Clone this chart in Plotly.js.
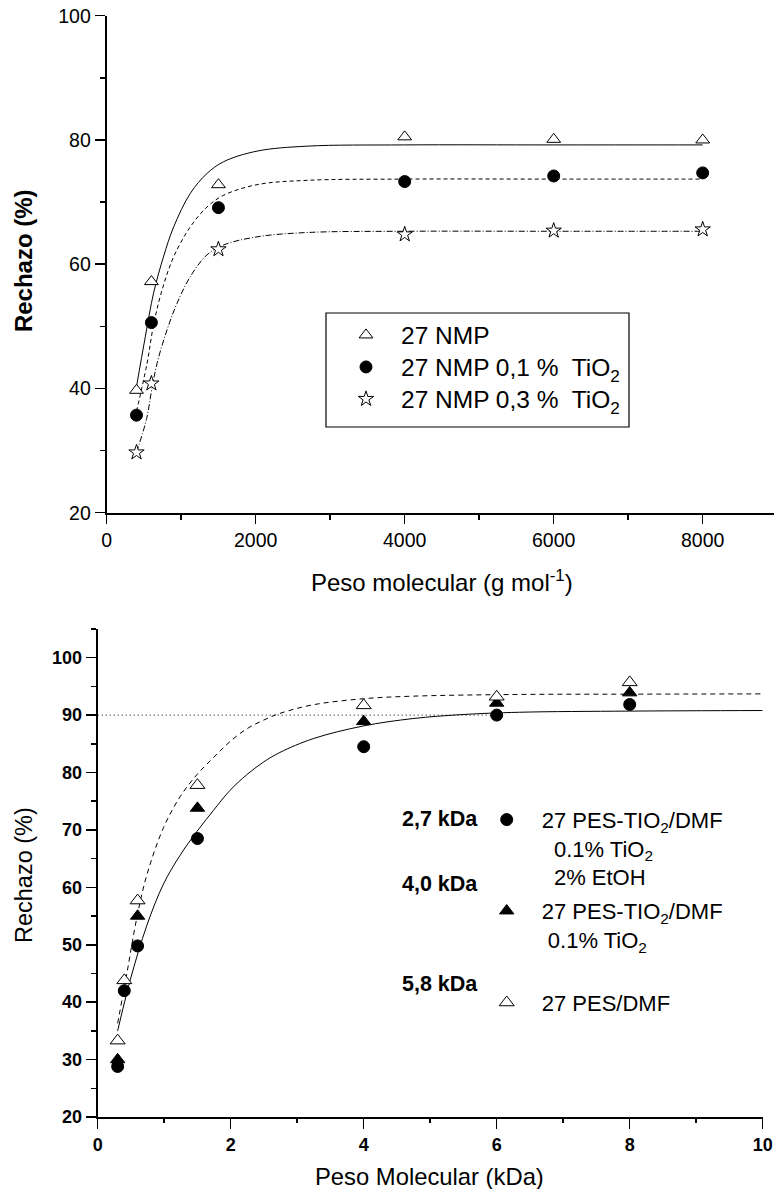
<!DOCTYPE html>
<html>
<head>
<meta charset="utf-8">
<script src="https://cdn.plot.ly/plotly-3.0.1.min.js"></script>
<style>
  html, body { margin: 0; padding: 0; background: #ffffff; }
  #chart { width: 774px; height: 1189px; }
</style>
</head>
<body>
<div id="chart"></div>
<script>
// ---------- Upper panel: rejection vs. molecular weight (g/mol) ----------
const mwGmol = [400, 600, 1500, 4000, 6000, 8000];
const rejNmp = [39.7, 57.2, 72.8, 80.5, 80.1, 80.0];
const rejNmpTi01 = [35.7, 50.6, 69.1, 73.3, 74.2, 74.7];
const rejNmpTi03 = [29.7, 40.8, 62.4, 64.8, 65.4, 65.6];

// fitted curves of the upper panel
const fitNmpX = [400, 518, 630, 765, 899, 1122, 1346, 1570, 2017, 2689, 4000, 6000, 8000];
const fitNmpY = [40.3, 48.3, 55.4, 61.3, 66.0, 71.4, 74.6, 76.5, 78.2, 79.0, 79.2, 79.2, 79.2];
const fitTi01X = [400, 541, 630, 742, 899, 1122, 1346, 1570, 2017, 2689, 4000, 6000, 8000];
const fitTi01Y = [36.3, 44.0, 50.3, 55.8, 61.2, 66.0, 69.2, 71.1, 72.8, 73.5, 73.7, 73.7, 73.7];
const fitTi03X = [400, 537, 600, 675, 809, 944, 1122, 1346, 1570, 2017, 2689, 4000, 6000, 8000];
const fitTi03Y = [29.7, 35.2, 39.5, 44.0, 49.4, 53.7, 58.0, 61.5, 63.1, 64.4, 65.1, 65.3, 65.3, 65.3];

const topNames = ['27 NMP', '27 NMP 0,1 %&nbsp; TiO<sub>2</sub>', '27 NMP 0,3 %&nbsp; TiO<sub>2</sub>'];
const topLegendY = [335, 367, 399];

// ---------- Lower panel: rejection vs. molecular weight (kDa) ----------
const mwKDa = [0.3, 0.4, 0.6, 1.5, 4, 6, 8];
const rejEtoh = [28.8, 42.0, 49.8, 68.5, 84.5, 90.0, 91.85];
const mwKDaTi = [0.3, 0.6, 1.5, 4, 6, 8];
const rejTi = [30.0, 55.0, 73.8, 88.9, 92.1, 93.9];
const rejPes = [33.3, 43.8, 57.7, 77.8, 91.7, 93.2, 95.7];

// fitted curves of the lower panel
const fitEtohX = [0.3, 0.49, 0.74, 0.99, 1.24, 1.49, 1.74, 1.99, 2.24, 2.49, 2.74, 3.24, 3.99, 4.74, 5.49, 6.34, 8, 10];
const fitEtohY = [35.0, 43.9, 53.4, 60.6, 65.6, 69.7, 73.4, 76.9, 79.6, 81.8, 83.5, 85.9, 88.1, 89.4, 90.1, 90.5, 90.7, 90.8];
const fitPesX = [0.3, 0.44, 0.59, 0.74, 0.99, 1.24, 1.49, 1.74, 1.99, 2.24, 2.49, 2.74, 3.24, 3.99, 4.74, 6.34, 8, 10];
const fitPesY = [36.3, 45.1, 54.8, 62.2, 70.4, 75.8, 79.6, 82.6, 85.4, 87.6, 89.1, 90.3, 91.8, 92.85, 93.3, 93.6, 93.65, 93.7];

// 90 % rejection reference (dotted)
const refX = [0, 6];
const refY = [90, 90];

const bottomNames = [
  '27 PES-TIO<sub>2</sub>/DMF<br>&nbsp;&nbsp;0.1% TiO<sub>2</sub><br>&nbsp;&nbsp;2% EtOH',
  '27 PES-TIO<sub>2</sub>/DMF<br>&nbsp;0.1% TiO<sub>2</sub>',
  '27 PES/DMF'
];
const bottomLegendY = [819.3, 911, 1002.7];
const cutoffLabels = ['2,7 kDa', '4,0 kDa', '5,8 kDa'];
const cutoffLabelY = [819.3, 884, 984];

const FONT = '"Liberation Sans", Arial, Helvetica, sans-serif';
const W = 774, H = 1189;
const px = v => v / W;
const py = v => 1 - v / H;

function curve(x, y, dash, xa, ya) {
  return { x, y, xaxis: xa, yaxis: ya, type: 'scatter', mode: 'lines',
           line: { color: '#000', width: 1, dash, shape: 'spline', smoothing: 1 },
           showlegend: false, hoverinfo: 'skip' };
}

const traces = [
  curve(fitNmpX, fitNmpY, 'solid', 'x', 'y'),
  curve(fitTi01X, fitTi01Y, '4px,3px', 'x', 'y'),
  curve(fitTi03X, fitTi03Y, '6px,2px,1px,2px', 'x', 'y'),
  { x: mwGmol, y: rejNmp, xaxis: 'x', yaxis: 'y', mode: 'markers', name: topNames[0], legend: 'legend',
    marker: { symbol: 'triangle-up', size: 12, color: '#fff', line: { color: '#000', width: 1 } } },
  { x: mwGmol, y: rejNmpTi01, xaxis: 'x', yaxis: 'y', mode: 'markers', name: topNames[1], legend: 'legend3',
    marker: { symbol: 'circle', size: 12, color: '#000', line: { color: '#000', width: 1 } } },
  { x: mwGmol, y: rejNmpTi03, xaxis: 'x', yaxis: 'y', mode: 'markers', name: topNames[2], legend: 'legend4',
    marker: { symbol: 'star', size: 11.5, color: '#fff', line: { color: '#000', width: 1 } } },

  { x: refX, y: refY, xaxis: 'x2', yaxis: 'y2', mode: 'lines', showlegend: false, hoverinfo: 'skip',
    line: { color: '#000', width: 1, dash: '1px,3px' } },
  curve(fitEtohX, fitEtohY, 'solid', 'x2', 'y2'),
  curve(fitPesX, fitPesY, '5px,4px', 'x2', 'y2'),
  { x: mwKDa, y: rejEtoh, xaxis: 'x2', yaxis: 'y2', mode: 'markers', name: bottomNames[0], legend: 'legend2',
    marker: { symbol: 'circle', size: 12, color: '#000', line: { color: '#000', width: 1 } } },
  { x: mwKDaTi, y: rejTi, xaxis: 'x2', yaxis: 'y2', mode: 'markers', name: bottomNames[1], legend: 'legend5',
    marker: { symbol: 'triangle-up', size: 12.5, color: '#000', line: { color: '#000', width: 1 } } },
  { x: mwKDa, y: rejPes, xaxis: 'x2', yaxis: 'y2', mode: 'markers', name: bottomNames[2], legend: 'legend6',
    marker: { symbol: 'triangle-up', size: 13, color: '#fff', line: { color: '#000', width: 1 } } }
];

const topTick = { family: FONT, size: 19.5, color: '#000' };
const botTick = { family: FONT, size: 18, color: '#000', weight: 'bold' };

const xTopDomain = [px(106.7), 1];
const yTopDomain = [py(512.7), py(15.7)];
const xBotDomain = [px(97.7), px(762.7)];
const yBotDomain = [py(1117), py(629)];
const xTopRange = [0, 8957];

// a single-entry legend whose first text line is centred on yFirst
function legendAt(xCenter, yFirst, size, label) {
  const lines = label.split('<br>').length;
  const lineGap = 29;
  return { x: px(xCenter - 35), xanchor: 'left', y: py(yFirst + (lines - 1) * lineGap / 2), yanchor: 'middle',
    itemwidth: 60, valign: 'top', bgcolor: 'rgba(0,0,0,0)', borderwidth: 0,
    font: { family: FONT, size, color: '#000' } };
}

const layout = {
  width: W, height: H,
  margin: { l: 0, r: 0, t: 0, b: 0 },
  paper_bgcolor: '#fff', plot_bgcolor: 'rgba(0,0,0,0)',
  font: { family: FONT, color: '#000' },
  showlegend: true,
  xaxis: { domain: xTopDomain, anchor: 'y', range: xTopRange, tick0: 0, dtick: 2000,
    ticks: 'outside', ticklen: 9, tickwidth: 1.5, tickcolor: '#000', tickfont: topTick,
    showline: true, linewidth: 2, linecolor: '#000', showgrid: false, zeroline: false,
    minor: { ticks: 'outside', ticklen: 5, tickwidth: 1.5, dtick: 1000, tick0: 0, showgrid: false } },
  yaxis: { domain: yTopDomain, anchor: 'x', range: [20, 100], tick0: 20, dtick: 20,
    ticks: 'outside', ticklen: 10, tickwidth: 1.5, tickcolor: '#000', tickfont: topTick,
    showline: true, linewidth: 2, linecolor: '#000', showgrid: false, zeroline: false,
    minor: { ticks: 'outside', ticklen: 5, tickwidth: 1.5, dtick: 10, tick0: 20, showgrid: false } },
  xaxis3: { overlaying: 'x', side: 'top', anchor: 'y', range: xTopRange, tick0: 0, dtick: 2000,
    ticks: 'inside', ticklen: 9, tickwidth: 1.5, tickcolor: '#000', showticklabels: false,
    showline: true, linewidth: 2, linecolor: '#000', showgrid: false, zeroline: false,
    minor: { ticks: 'inside', ticklen: 4, tickwidth: 1.5, dtick: 1000, tick0: 0, showgrid: false } },
  yaxis3: { overlaying: 'y', side: 'right', anchor: 'x', range: [20, 100], tick0: 20, dtick: 20,
    ticks: 'inside', ticklen: 7, tickwidth: 1.5, tickcolor: '#000', showticklabels: false,
    showline: false, showgrid: false, zeroline: false,
    minor: { ticks: 'inside', ticklen: 3, tickwidth: 1.5, dtick: 10, tick0: 20, showgrid: false } },

  xaxis2: { domain: xBotDomain, anchor: 'y2', range: [0, 10], tick0: 0, dtick: 2,
    ticks: 'outside', ticklen: 10, tickwidth: 1.5, tickcolor: '#000', tickfont: botTick,
    showline: true, linewidth: 2, linecolor: '#000', showgrid: false, zeroline: false,
    minor: { ticks: 'outside', ticklen: 4, tickwidth: 1.5, dtick: 1, tick0: 0, showgrid: false } },
  yaxis2: { domain: yBotDomain, anchor: 'x2', range: [20, 105], tick0: 20, dtick: 10,
    ticks: 'outside', ticklen: 10, tickwidth: 1.5, tickcolor: '#000', tickfont: botTick,
    showline: true, linewidth: 2, linecolor: '#000', showgrid: false, zeroline: false,
    minor: { ticks: 'outside', ticklen: 5, tickwidth: 1.5, dtick: 5, tick0: 20, showgrid: false } },
  xaxis4: { overlaying: 'x2', side: 'top', anchor: 'y2', range: [0, 10], tick0: 0, dtick: 2,
    ticks: 'inside', ticklen: 10, tickwidth: 1.5, tickcolor: '#000', showticklabels: false,
    showline: true, linewidth: 2, linecolor: '#000', showgrid: false, zeroline: false,
    minor: { ticks: 'inside', ticklen: 5, tickwidth: 1.5, dtick: 1, tick0: 0, showgrid: false } },
  yaxis4: { overlaying: 'y2', side: 'right', anchor: 'x2', range: [20, 105], tick0: 20, dtick: 10,
    ticks: 'inside', ticklen: 10, tickwidth: 1.5, tickcolor: '#000', showticklabels: false,
    showline: true, linewidth: 2, linecolor: '#000', showgrid: false, zeroline: false,
    minor: { ticks: 'inside', ticklen: 5, tickwidth: 1.5, dtick: 5, tick0: 20, showgrid: false } },

  // one legend per entry so each row sits at its own height
  legend: legendAt(366, topLegendY[0], 24.5, topNames[0]),
  legend3: legendAt(366, topLegendY[1], 24.5, topNames[1]),
  legend4: legendAt(366, topLegendY[2], 24.5, topNames[2]),
  legend2: legendAt(506.7, bottomLegendY[0], 22, bottomNames[0]),
  legend5: legendAt(506.7, bottomLegendY[1], 22, bottomNames[1]),
  legend6: legendAt(506.7, bottomLegendY[2], 22, bottomNames[2]),

  shapes: [
    { type: 'rect', xref: 'paper', yref: 'paper', x0: px(326), x1: px(629), y0: py(427), y1: py(313),
      line: { color: '#000', width: 1.2 }, fillcolor: 'rgba(0,0,0,0)', layer: 'above' }
  ],

  annotations: [
    { text: 'Rechazo (%)', xref: 'paper', yref: 'paper', x: px(23.3), y: py(260.8),
      xanchor: 'center', yanchor: 'middle', textangle: -90, showarrow: false,
      font: { family: FONT, size: 24, color: '#000', weight: 'bold' } },
    { text: 'Peso molecular (g mol<sup>-1</sup>)', xref: 'paper', yref: 'paper', x: px(441.7), y: py(581),
      xanchor: 'center', yanchor: 'middle', showarrow: false,
      font: { family: FONT, size: 24, color: '#000' } },
    { text: 'Rechazo (%)', xref: 'paper', yref: 'paper', x: px(24), y: py(875),
      xanchor: 'center', yanchor: 'middle', textangle: -90, showarrow: false,
      font: { family: FONT, size: 23.5, color: '#000' } },
    { text: 'Peso Molecular (kDa)', xref: 'paper', yref: 'paper', x: px(429.7), y: py(1176),
      xanchor: 'center', yanchor: 'middle', showarrow: false,
      font: { family: FONT, size: 23.8, color: '#000' } }
  ].concat(cutoffLabels.map((t, i) => ({
      text: t, xref: 'paper', yref: 'paper', x: px(480), y: py(cutoffLabelY[i]),
      xanchor: 'right', yanchor: 'middle', showarrow: false,
      font: { family: FONT, size: 21.5, color: '#000', weight: 'bold' } })))
};

Plotly.newPlot('chart', traces, layout, { staticPlot: true, displayModeBar: false });
</script>
</body>
</html>
